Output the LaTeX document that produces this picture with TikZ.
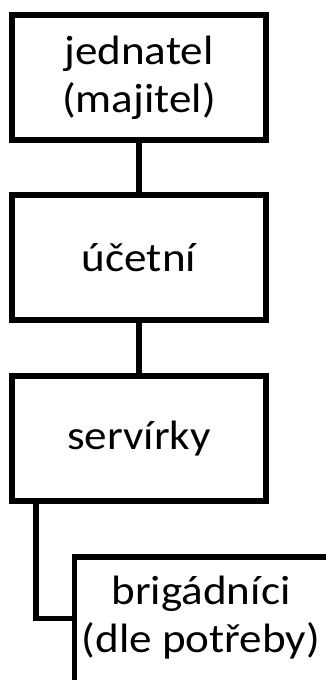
\documentclass[tikz,border=0pt]{standalone}
\usepackage{fontspec}
\setmainfont[FakeStretch=1.1]{Carlito}
\begin{document}
\begin{tikzpicture}[x=1pt,y=-1pt,
  box/.style={draw, line width=5.5pt, fill=white, inner sep=0pt,
    minimum width=254pt, minimum height=125pt, align=center,
    font=\fontsize{41}{48}\selectfont},
  conn/.style={line width=5.5pt}]
\clip (0,0) rectangle (326,680);
\fill[white] (0,0) rectangle (326,680);
\node[box] (a) at (139,77.5) {jednatel\\(majitel)};
\node[box] (b) at (139,257.5) {účetní};
\node[box] (c) at (139,438.5) {servírky};
\node[box, minimum width=262pt, minimum height=132pt] (d) at (205.5,623) {\raisebox{4pt}[\height][\depth]{\begin{tabular}{@{}c@{}}brigádníci\kern9pt\\(dle potřeby)\kern9pt\end{tabular}}};
\draw[conn] (a.south) -- (b.north);
\draw[conn] (b.south) -- (c.north);
\draw[conn] ([xshift=26.5pt]c.south west) |- ([yshift=4.5pt]d.west);
\end{tikzpicture}
\end{document}
